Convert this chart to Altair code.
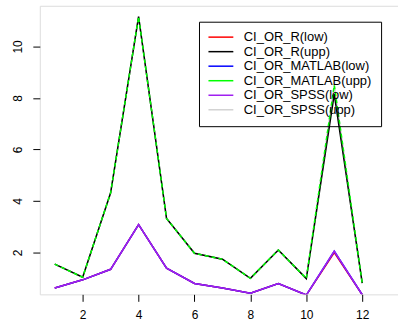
import altair as alt
import pandas as pd

x_vals = list(range(1, 13))
series_names = ["CI_OR_R(low)", "CI_OR_R(upp)", "CI_OR_MATLAB(low)",
                "CI_OR_MATLAB(upp)", "CI_OR_SPSS(low)", "CI_OR_SPSS(upp)"]
series_colors = ["#FF0000", "#000000", "#0000FF", "#00FF00", "#A020F0", "#D3D3D3"]

r_low = [0.62, 0.94, 1.35, 3.08, 1.39, 0.80, 0.62, 0.42, 0.80, 0.35, 2.00, 0.36]
r_upp = [1.55, 1.04, 4.32, 11.16, 3.32, 1.97, 1.74, 1.00, 2.10, 0.99, 8.15, 0.81]
matlab_low = [0.62, 0.94, 1.35, 3.08, 1.39, 0.80, 0.62, 0.42, 0.80, 0.35, 2.05, 0.36]
matlab_upp = [1.55, 1.04, 4.32, 11.16, 3.32, 1.97, 1.74, 1.00, 2.10, 0.99, 8.50, 0.81]
spss_low = [0.62, 0.94, 1.35, 3.08, 1.39, 0.80, 0.62, 0.42, 0.80, 0.35, 2.05, 0.36]
spss_upp = [1.55, 1.04, 4.32, 11.16, 3.32, 1.97, 1.74, 1.00, 2.10, 0.99, 8.50, 0.81]

all_series = [r_low, r_upp, matlab_low, matlab_upp, spss_low, spss_upp]
# drawing order: lightgray first (hidden), then others
draw_order = [5, 0, 1, 2, 3, 4]

rows = []
for rank, idx in enumerate(draw_order):
    for xv, yv in zip(x_vals, all_series[idx]):
        rows.append({"x": xv, "y": yv, "series": series_names[idx], "order": rank})
df = pd.DataFrame(rows)

FONT = "Liberation Sans"

x_scale = alt.Scale(domain=[0.466, 13.28], nice=False, zero=False)
y_scale = alt.Scale(domain=[0.377, 11.58], nice=False, zero=False)

base = alt.Chart(df)

lines_solid = base.transform_filter(
    alt.datum.series != "CI_OR_MATLAB(upp)"
).mark_line(strokeWidth=1.5, clip=True).encode(
    x=alt.X("x:Q", scale=x_scale,
            axis=alt.Axis(values=[2, 4, 6, 8, 10, 12], title=None, grid=False,
                          domain=False, tickColor="black", tickSize=7,
                          labelFont=FONT, labelFontSize=12, labelColor="black",
                          labelPadding=8)),
    y=alt.Y("y:Q", scale=y_scale,
            axis=alt.Axis(values=[2, 4, 6, 8, 10], title=None, grid=False,
                          domain=False, tickColor="black", tickSize=7,
                          labelFont=FONT, labelFontSize=12, labelColor="black",
                          labelAngle=-90, labelAlign="center",
                          labelBaseline="bottom", labelPadding=8)),
    color=alt.Color("series:N",
                    scale=alt.Scale(domain=series_names, range=series_colors),
                    legend=alt.Legend(
                        title=None, orient="none", legendX=160, legendY=16,
                        symbolType="M-1.5,0H4.75", symbolSize=64,
                        symbolStrokeWidth=1.5, labelOffset=23,
                        labelFont=FONT, labelFontSize=13, labelColor="black",
                        rowPadding=0.6, padding=9,
                        strokeColor="black",
                        labelLimit=300, zindex=0)),
    detail="series:N",
    order=alt.Order("order:Q"),
)

green_dashed = base.transform_filter(
    alt.datum.series == "CI_OR_MATLAB(upp)"
).mark_line(strokeWidth=1.5, strokeDash=[4, 3], clip=True).encode(
    x=alt.X("x:Q", scale=x_scale),
    y=alt.Y("y:Q", scale=y_scale),
    color=alt.Color("series:N",
                    scale=alt.Scale(domain=series_names, range=series_colors)),
)

chart = alt.layer(lines_solid, green_dashed).properties(
    width=360, height=290,
    padding={"left": 40, "top": 5, "right": 0, "bottom": 31},
    autosize=alt.AutoSizeParams(type="none"),
).configure_view(
    stroke="black", strokeWidth=1
).configure(background="white")

chart.save("out.html", embed_options={"renderer": "svg", "actions": False})
